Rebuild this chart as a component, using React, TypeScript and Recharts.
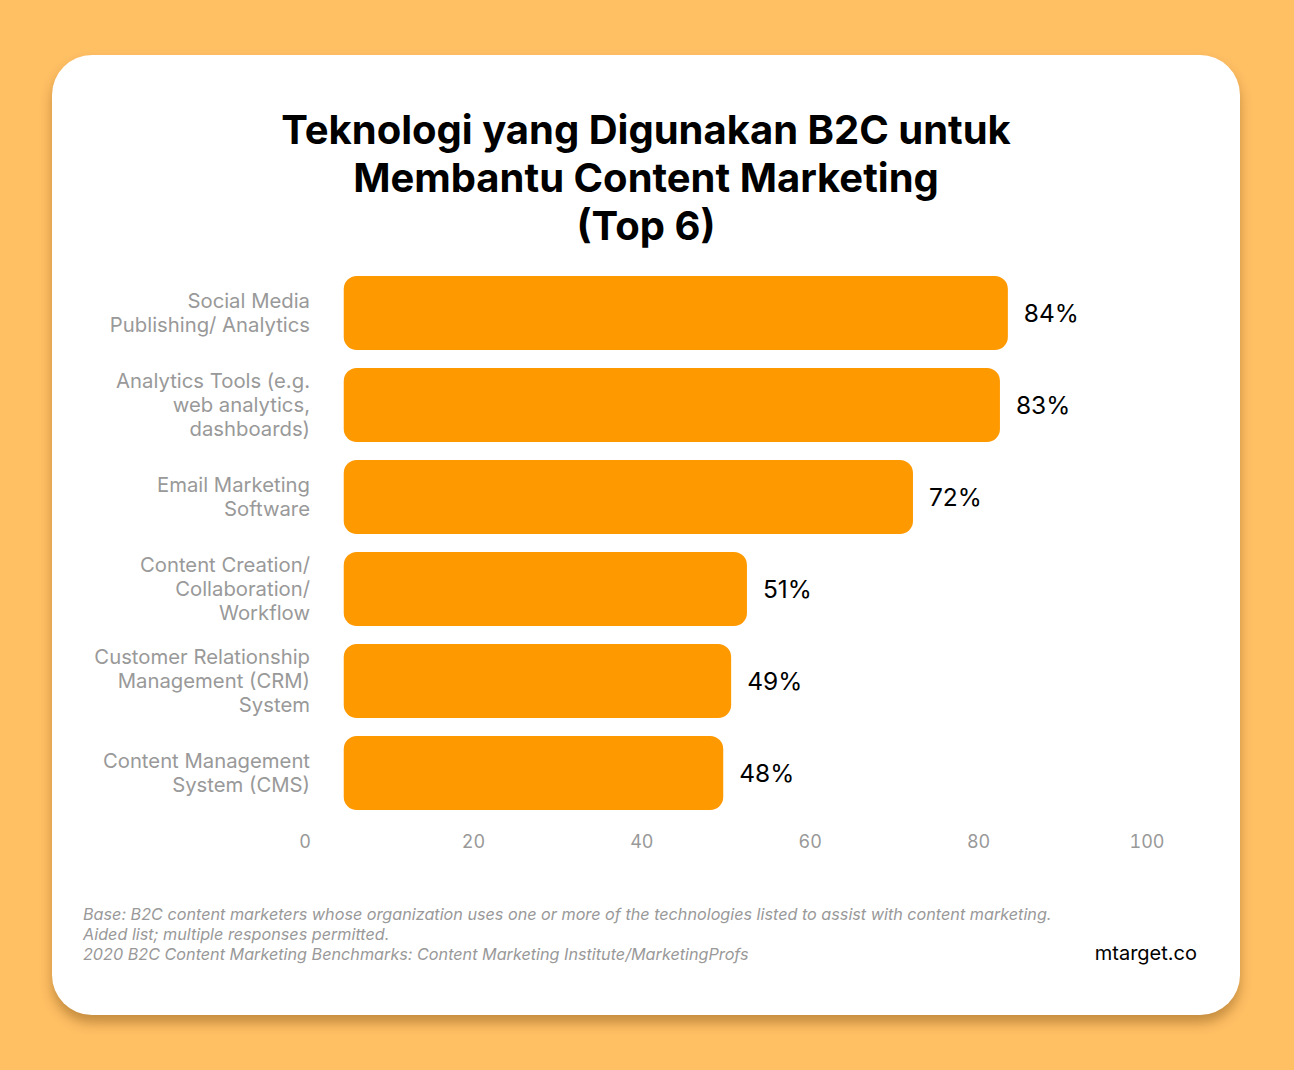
import { Bar, BarChart, LabelList, XAxis, YAxis } from "recharts";

// chart data
const categories = [
  "Social Media\nPublishing/ Analytics",
  "Analytics Tools (e.g.\nweb analytics,\ndashboards)",
  "Email Marketing\nSoftware",
  "Content Creation/\nCollaboration/\nWorkflow",
  "Customer Relationship\nManagement (CRM)\nSystem",
  "Content Management\nSystem (CMS)",
];
const values = [84, 83, 72, 51, 49, 48];
const xTicks = [0, 20, 40, 60, 80, 100];

const titleLines = [
  "Teknologi yang Digunakan B2C untuk",
  "Membantu Content Marketing",
  "(Top 6)",
];
const notes = [
  "Base: B2C content marketers whose organization uses one or more of the technologies listed to assist with content marketing.",
  "Aided list; multiple responses permitted.",
  "2020 B2C Content Marketing Benchmarks: Content Marketing Institute/MarketingProfs",
];
const brand = "mtarget.co";

const data = categories.map((name, i) => ({ name, value: values[i] }));

const FONT = "Inter, 'Noto Sans', sans-serif";

const CategoryTick = ({ x, y, payload }: any) => {
  const lines = String(payload.value).split("\n");
  const top = y - ((lines.length - 1) * 24) / 2;
  return (
    <text x={x + 5} y={top} textAnchor="end" fill="#999999" fontSize={20.3} fontFamily={FONT}>
      {lines.map((line, i) => (
        <tspan key={i} x={x + 5} y={top + i * 24} dy="0.35em">
          {line}
        </tspan>
      ))}
    </text>
  );
};

const NumberTick = ({ x, y, payload }: any) => (
  <text
    x={x}
    y={y}
    dy="0.71em"
    textAnchor="middle"
    fill="#999999"
    fontSize={18}
    fontFamily={FONT}
    style={{ fontVariantNumeric: "tabular-nums" }}
  >
    {payload.value}
  </text>
);

const App = () => {
  return (
    <div className="page" style={{ position: "fixed", left: 0, top: 0, width: 1294, height: 1070, background: "#FFBF63", fontFamily: FONT }}>
      <div
        className="card"
        style={{
          position: "absolute",
          left: 52,
          top: 55,
          width: 1188,
          height: 960,
          background: "#fff",
          borderRadius: 40,
          boxShadow: "0 8px 12px rgba(90, 50, 0, 0.35)",
        }}
      />
      <div style={{ position: "absolute", left: 52, width: 1188, top: 106, textAlign: "center", fontSize: 40, fontWeight: 700, lineHeight: "48px", color: "#000" }}>
        {titleLines.map(t => (
          <div key={t}>{t}</div>
        ))}
      </div>

      <div style={{ position: "absolute", left: 0, top: 0 }}>
        <BarChart
          width={1294}
          height={1070}
          layout="vertical"
          data={data}
          margin={{ top: 267, right: 147, bottom: 221, left: 45 }}
        >
          <YAxis
            type="category"
            dataKey="name"
            width={260}
            axisLine={false}
            tickLine={false}
            tickSize={0}
            tickMargin={0}
            tick={<CategoryTick />}
            interval={0}
          />
          <XAxis
            xAxisId="ticks"
            type="number"
            domain={[0, 100]}
            ticks={xTicks}
            allowDataOverflow
            axisLine={false}
            tickLine={false}
            tickSize={0}
            tickMargin={16}
            tick={<NumberTick />}
          />
          <XAxis xAxisId="vals" type="number" domain={[-4.9, 101.6]} allowDataOverflow hide />
          <Bar xAxisId="vals" dataKey="value" fill="#FF9900" barSize={74} radius={13} isAnimationActive={false}>
            <LabelList
              dataKey="value"
              position="right"
              offset={16}
              formatter={(v: any) => `${v}%`}
              fill="#000"
              fontSize={24.5}
              fontFamily={FONT}
            />
          </Bar>
        </BarChart>
      </div>

      <div style={{ position: "absolute", left: 83, top: 904, fontSize: 16.2, fontStyle: "italic", color: "#999999", lineHeight: "20px" }}>
        {notes.map(n => (
          <div key={n}>{n}</div>
        ))}
      </div>
      <div style={{ position: "absolute", right: 97, top: 941, fontSize: 20, color: "#000" }}>{brand}</div>
    </div>
  );
};

export default App;
